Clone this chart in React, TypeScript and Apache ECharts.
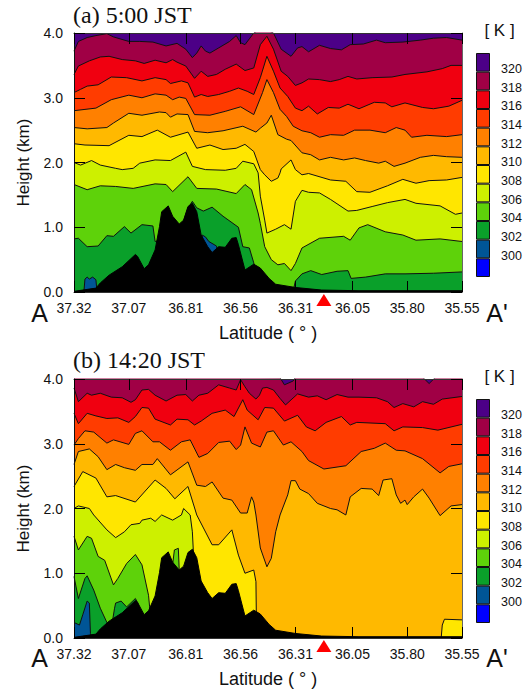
import React, { useEffect, useRef } from "react";
import * as echarts from "echarts";

type P = [number, number][];

const latTicks = [37.32, 37.07, 36.81, 36.56, 36.31, 36.05, 35.8, 35.55];
const stationLat = [36.18];
const levelLabels = ["", "300", "302", "304", "306", "308", "310", "312", "314", "316", "318", "320"];
const bandColors = ["#0000ff", "#005596", "#0aa02a", "#5ed20a", "#cdf000", "#ffe600", "#ffb900", "#ff8000", "#ff3c00", "#f00010", "#a00045", "#4c0087"];

const terrain: P = [[37.32,.01],[37.22,.06],[37.20,.14],[37.16,.26],[37.10,.39],[37.04,.58],[37.03,.55],[37.00,.36],[36.98,.42],[36.95,.65],[36.93,1.01],[36.92,1.24],[36.89,1.33],[36.87,1.17],[36.84,1.05],[36.82,1.11],[36.80,1.32],[36.78,1.37],[36.76,1.24],[36.74,.88],[36.71,.70],[36.69,.61],[36.66,.70],[36.63,.69],[36.60,.83],[36.58,.84],[36.57,.73],[36.54,.34],[36.50,.43],[36.47,.37],[36.43,.21],[36.40,.12],[36.31,.07],[36.19,.03],[36.02,.02],[35.55,.02]];

const a320: P = [[37.32,3.72],[37.30,3.87],[37.26,3.93],[37.22,3.96],[37.17,3.99],[37.14,3.94],[37.07,3.87],[37.02,3.87],[36.96,3.86],[36.90,3.80],[36.85,3.84],[36.81,3.75],[36.78,3.62],[36.76,3.69],[36.74,3.80],[36.72,3.72],[36.70,3.69],[36.66,3.77],[36.61,3.87],[36.58,3.96],[36.56,3.85],[36.54,3.82],[36.52,3.91],[36.50,4.00],[36.46,4.08],[36.41,4.00],[36.375,3.75],[36.33,3.64],[36.30,3.77],[36.28,3.79],[36.25,3.71],[36.20,3.81],[36.15,3.76],[36.10,3.74],[36.06,3.82],[36.00,3.83],[35.94,3.89],[35.90,3.85],[35.82,3.86],[35.74,3.89],[35.68,3.92],[35.62,3.93],[35.55,3.89]];
const a318: P = [[37.32,3.36],[37.30,3.49],[37.25,3.57],[37.20,3.63],[37.16,3.64],[37.10,3.59],[37.04,3.57],[37.00,3.53],[36.95,3.58],[36.90,3.54],[36.87,3.59],[36.85,3.55],[36.81,3.49],[36.77,3.30],[36.74,3.41],[36.71,3.33],[36.67,3.36],[36.63,3.44],[36.58,3.52],[36.54,3.42],[36.50,3.46],[36.47,3.82],[36.44,3.95],[36.41,3.75],[36.375,3.41],[36.345,3.33],[36.31,3.19],[36.28,3.23],[36.25,3.29],[36.20,3.28],[36.15,3.25],[36.11,3.28],[36.07,3.33],[36.03,3.29],[35.96,3.31],[35.87,3.32],[35.81,3.36],[35.71,3.40],[35.64,3.45],[35.60,3.50],[35.55,3.50]];
const a316: P = [[37.32,3.08],[37.29,3.13],[37.26,3.18],[37.21,3.20],[37.15,3.32],[37.08,3.31],[37.01,3.26],[36.95,3.31],[36.90,3.28],[36.88,3.22],[36.83,3.26],[36.80,3.23],[36.77,3.01],[36.74,3.05],[36.71,3.02],[36.66,3.05],[36.61,3.10],[36.57,3.15],[36.53,3.10],[36.50,3.05],[36.47,3.31],[36.44,3.64],[36.41,3.41],[36.38,3.15],[36.345,3.02],[36.31,2.84],[36.28,2.80],[36.25,2.87],[36.21,2.75],[36.16,2.85],[36.11,2.84],[36.07,2.90],[36.02,2.83],[35.95,2.93],[35.90,2.92],[35.87,2.86],[35.81,2.92],[35.73,2.85],[35.68,2.83],[35.61,2.87],[35.55,2.96]];
const a314: P = [[37.32,2.80],[37.27,2.82],[37.22,2.84],[37.15,2.97],[37.07,3.04],[37.01,3.00],[36.95,3.06],[36.90,3.04],[36.87,2.97],[36.84,3.01],[36.81,2.99],[36.77,2.74],[36.70,2.73],[36.63,2.79],[36.56,2.86],[36.50,2.74],[36.46,3.08],[36.44,3.28],[36.41,3.08],[36.38,2.82],[36.35,2.71],[36.32,2.56],[36.28,2.49],[36.24,2.46],[36.20,2.39],[36.15,2.43],[36.09,2.42],[36.04,2.50],[35.97,2.50],[35.90,2.46],[35.85,2.54],[35.81,2.50],[35.78,2.39],[35.71,2.42],[35.62,2.40],[35.55,2.43]];
const a312: P = [[37.32,2.54],[37.26,2.52],[37.17,2.54],[37.14,2.61],[37.07,2.76],[37.01,2.73],[36.93,2.78],[36.90,2.77],[36.88,2.70],[36.85,2.75],[36.80,2.74],[36.77,2.48],[36.71,2.46],[36.64,2.49],[36.55,2.56],[36.49,2.47],[36.47,2.53],[36.44,2.61],[36.42,2.73],[36.39,2.43],[36.35,2.36],[36.33,2.34],[36.28,2.15],[36.24,2.12],[36.20,2.04],[36.15,2.08],[36.09,2.04],[36.04,2.07],[35.99,2.03],[35.93,1.99],[35.90,2.02],[35.86,1.94],[35.81,1.99],[35.74,2.08],[35.68,2.11],[35.62,2.09],[35.55,2.08]];
const a310: P = [[37.32,2.29],[37.27,2.27],[37.16,2.26],[37.07,2.42],[37.01,2.40],[36.94,2.50],[36.88,2.39],[36.80,2.47],[36.76,2.22],[36.70,2.27],[36.64,2.20],[36.58,2.22],[36.54,2.28],[36.50,2.17],[36.47,1.89],[36.45,1.81],[36.42,1.71],[36.39,1.76],[36.38,1.84],[36.375,1.90],[36.33,2.04],[36.31,1.89],[36.28,1.81],[36.25,1.83],[36.15,1.73],[36.08,1.71],[36.03,1.55],[35.97,1.54],[35.89,1.64],[35.82,1.74],[35.76,1.68],[35.70,1.72],[35.62,1.73],[35.55,1.77]];
const a308: P = [[37.32,2.00],[37.29,1.96],[37.24,2.03],[37.20,1.96],[37.13,1.91],[37.10,1.89],[37.05,1.91],[37.02,1.99],[36.95,2.04],[36.88,2.03],[36.81,2.16],[36.78,1.94],[36.72,1.89],[36.63,1.88],[36.58,1.91],[36.55,2.02],[36.50,1.98],[36.48,1.84],[36.47,1.48],[36.45,1.11],[36.44,.91],[36.40,.97],[36.36,1.04],[36.33,.97],[36.31,1.40],[36.28,1.57],[36.25,1.54],[36.20,1.53],[36.15,1.43],[36.07,1.25],[36.03,1.26],[35.96,1.32],[35.89,1.38],[35.81,1.43],[35.76,1.37],[35.65,1.33],[35.58,1.20],[35.55,1.22]];
const a306: P = [[37.32,1.66],[37.26,1.58],[37.20,1.64],[37.13,1.63],[37.05,1.60],[36.95,1.67],[36.90,1.66],[36.87,1.55],[36.80,1.78],[36.76,1.60],[36.67,1.59],[36.58,1.52],[36.54,1.66],[36.51,1.58],[36.48,1.22],[36.47,1.06],[36.45,.70],[36.42,.50],[36.39,.42],[36.36,.44],[36.33,.33],[36.31,.44],[36.28,.68],[36.20,.83],[36.09,.86],[36.06,.80],[36.02,.99],[35.98,1.04],[35.90,.93],[35.82,.88],[35.76,.80],[35.65,.82],[35.55,.78]];
const a304: P = [[37.32,.82],[37.30,.83],[37.26,.70],[37.21,.71],[37.17,.87],[37.14,.86],[37.09,1.01],[37.06,.91],[37.01,1.04],[36.96,1.02],[36.95,.78],[36.92,.8],[36.84,.9],[36.80,1.3],[36.78,1.40],[36.76,1.30],[36.73,1.25],[36.69,1.31],[36.64,1.17],[36.57,1.00],[36.55,.70],[36.52,.68],[36.50,.45],[36.48,.2],[36.40,.05],[36.32,.02],[36.31,.17],[36.28,.28],[36.24,.33],[36.19,.27],[36.12,.32],[36.07,.33],[36.056,.21],[35.99,.23],[35.90,.28],[35.81,.28],[35.68,.29],[35.55,.31]];
const a302: P = [[37.32,0],[37.275,0],[37.27,.2],[37.26,.23],[37.25,.2],[37.235,.23],[37.22,.19],[37.215,0],[36.76,0],[36.74,.5],[36.735,.88],[36.72,.85],[36.705,.78],[36.67,.71],[36.66,.5],[36.64,0],[35.55,0]];

const b320: P = [[37.32,4.05],[36.38,4.02],[36.36,3.91],[36.32,3.97],[36.31,4.03],[35.73,4.03],[35.70,3.93],[35.67,4.03],[35.55,4.05]];
const b318: P = [[37.32,3.86],[37.30,3.65],[37.26,3.78],[37.24,3.75],[37.20,3.78],[37.15,3.72],[37.10,3.71],[37.06,3.64],[37.04,3.68],[37.01,3.83],[36.98,3.84],[36.95,3.75],[36.90,3.66],[36.85,3.75],[36.81,3.76],[36.78,3.66],[36.75,3.75],[36.71,3.78],[36.66,3.91],[36.61,3.86],[36.58,3.83],[36.56,3.99],[36.54,3.88],[36.52,3.78],[36.49,3.69],[36.474,3.75],[36.46,3.86],[36.44,3.87],[36.41,3.83],[36.38,3.70],[36.355,3.60],[36.30,3.77],[36.25,3.72],[36.21,3.74],[36.17,3.68],[36.12,3.76],[36.07,3.72],[36.02,3.72],[35.94,3.71],[35.89,3.65],[35.86,3.56],[35.82,3.62],[35.77,3.57],[35.73,3.65],[35.68,3.61],[35.64,3.69],[35.55,3.73]];
const b316: P = [[37.32,3.47],[37.30,3.31],[37.26,3.47],[37.22,3.43],[37.17,3.39],[37.12,3.40],[37.07,3.33],[37.04,3.42],[37.01,3.56],[36.98,3.55],[36.95,3.38],[36.88,3.29],[36.85,3.38],[36.80,3.37],[36.77,3.29],[36.74,3.35],[36.69,3.47],[36.63,3.52],[36.59,3.42],[36.55,3.68],[36.53,3.52],[36.48,3.37],[36.45,3.56],[36.41,3.55],[36.36,3.35],[36.30,3.44],[36.26,3.26],[36.22,3.20],[36.17,3.33],[36.10,3.42],[36.06,3.29],[36.03,3.33],[35.90,3.31],[35.86,3.20],[35.82,3.26],[35.73,3.25],[35.66,3.21],[35.55,3.30]];
const b314: P = [[37.32,2.98],[37.30,3.08],[37.27,3.20],[37.23,3.18],[37.17,3.01],[37.14,3.06],[37.07,2.99],[37.04,3.16],[37.01,3.20],[36.96,3.03],[36.93,3.03],[36.88,2.90],[36.83,3.03],[36.79,3.06],[36.75,2.79],[36.71,2.85],[36.66,3.02],[36.61,3.04],[36.58,2.91],[36.56,2.98],[36.54,3.26],[36.51,3.01],[36.47,2.95],[36.44,3.18],[36.41,3.20],[36.365,2.98],[36.33,3.03],[36.28,2.88],[36.25,2.74],[36.18,2.61],[36.08,2.66],[36.01,2.88],[35.95,2.93],[35.90,3.01],[35.85,2.90],[35.81,2.89],[35.73,2.77],[35.65,2.55],[35.61,2.65],[35.55,2.69]];
const b312: P = [[37.32,2.68],[37.30,2.88],[37.25,2.92],[37.21,2.80],[37.17,2.60],[37.13,2.68],[37.09,2.63],[37.04,2.59],[37.01,2.68],[36.96,2.68],[36.94,2.77],[36.88,2.52],[36.80,2.72],[36.76,2.36],[36.72,2.34],[36.69,2.41],[36.64,2.16],[36.60,2.13],[36.56,1.93],[36.53,1.93],[36.51,2.18],[36.50,2.10],[36.49,1.90],[36.47,1.39],[36.44,1.10],[36.42,1.23],[36.40,1.64],[36.38,1.90],[36.345,2.21],[36.33,2.43],[36.31,2.43],[36.29,2.30],[36.25,2.23],[36.21,2.08],[36.15,2.00],[36.12,1.98],[36.08,1.90],[36.06,2.18],[36.01,2.31],[35.96,2.30],[35.93,2.20],[35.91,2.44],[35.87,2.46],[35.85,2.21],[35.83,2.08],[35.81,2.13],[35.80,2.06],[35.77,2.18],[35.73,2.30],[35.70,2.16],[35.65,1.89],[35.60,2.04],[35.55,2.06]];
const b310: P = [[37.32,2.34],[37.28,2.57],[37.22,2.47],[37.17,2.18],[37.13,2.20],[37.04,2.10],[36.95,2.44],[36.90,2.31],[36.86,2.15],[36.80,2.34],[36.76,1.90],[36.69,1.44],[36.66,1.44],[36.60,1.67],[36.57,1.28],[36.54,1.00],[36.50,1.05],[36.49,.87],[36.488,.3],[36.45,.1],[36.40,.05],[36.31,.02],[36.0,0],[35.645,0],[35.64,.2],[35.63,.29],[35.55,.28]];
const b308: P = [[37.32,2.00],[37.30,2.04],[37.25,2.00],[37.23,1.90],[37.17,1.67],[37.13,1.55],[37.09,1.64],[37.06,1.75],[37.02,1.77],[37.01,1.82],[36.97,1.85],[36.95,1.80],[36.92,1.90],[36.87,1.82],[36.83,1.90],[36.82,2.00],[36.79,1.90],[36.78,1.64],[36.775,1.3],[36.77,1.0],[36.72,.3],[36.60,0],[35.55,0]];
const b306: P = [[37.32,1.57],[37.30,1.36],[37.26,1.57],[37.24,1.54],[37.21,1.26],[37.18,1.20],[37.14,.82],[37.12,.92],[37.08,1.15],[37.04,1.29],[37.01,1.13],[36.98,.66],[36.975,.48],[36.97,.3],[36.90,.8],[36.875,1.0],[36.862,1.36],[36.844,1.385],[36.84,1.05],[36.82,.8],[36.72,.3],[36.5,0],[35.55,0]];
const b304: P = [[37.32,.95],[37.30,.61],[37.27,.92],[37.26,.96],[37.23,.74],[37.20,.46],[37.17,.24],[37.16,.15],[37.145,.25],[37.135,.46],[37.13,.54],[37.105,.57],[37.08,.48],[37.04,.61],[37.03,.55],[37.0,.2],[36.9,0],[35.55,0]];
const b302: P = [[37.32,.24],[37.295,.20],[37.28,.36],[37.26,.57],[37.25,.54],[37.245,.07],[37.24,0],[35.55,0]];

const contoursA: P[] = [a320, a318, a316, a314, a312, a310, a308, a306, a304, a302];
const contoursB: P[] = [b320, b318, b316, b314, b312, b310, b308, b306, b304, b302];

const INK = "#111";
const SANS = "Liberation Sans";

function panelAxes(i: number) {
  const g = i;
  const x = (pos: string, labels: boolean) => ({
    type: "value", gridIndex: g, position: pos, inverse: true, min: 35.55, max: 37.32, z: 20,
    name: labels ? "Latitude ( ° )" : "", nameLocation: "middle", nameGap: 32, nameMoveOverlap: false,
    nameTextStyle: { fontFamily: SANS, fontSize: 18, color: INK },
    axisLine: { show: true, onZero: false, lineStyle: { color: "#333", width: 1 } },
    axisTick: { show: true, inside: true, length: 11, customValues: latTicks, lineStyle: { color: "#000", width: 1 } },
    axisLabel: { show: labels, customValues: latTicks, margin: 9, fontFamily: SANS, fontSize: 14, color: INK, formatter: (v: number) => v.toFixed(2) },
    splitLine: { show: false },
  });
  const y = (pos: string, labels: boolean) => ({
    type: "value", gridIndex: g, position: pos, min: 0, max: 4, interval: 1, z: 20,
    name: labels ? "Height (km)" : "", nameLocation: "middle", nameGap: 42, nameMoveOverlap: false,
    nameTextStyle: { fontFamily: SANS, fontSize: 17, color: INK },
    axisLine: { show: true, onZero: false, lineStyle: { color: pos === "left" ? "#111" : "#666", width: 1 } },
    axisTick: { show: true, inside: true, length: 11, lineStyle: { color: "#000", width: 1 } },
    axisLabel: { show: labels, margin: 11, fontFamily: SANS, fontSize: 14, color: INK, formatter: (v: number) => v.toFixed(1) },
    splitLine: { show: false },
  });
  return { xs: [x("bottom", true), x("top", false)], ys: [y("left", true), y("right", false)] };
}

function panelSeries(i: number, contours: P[], top: string) {
  const xi = i * 2;
  const yi = i * 2;
  const base = { type: "line", xAxisIndex: xi, yAxisIndex: yi, showSymbol: false, symbol: "none", silent: true };
  const out: any[] = [
    { ...base, data: [[37.32, 4], [35.55, 4]], lineStyle: { width: 0 }, areaStyle: { color: top, opacity: 1, origin: "start" }, z: 2 },
  ];
  contours.forEach((c, k) => {
    out.push({
      ...base, data: c, z: 3 + k,
      lineStyle: { color: "#111", width: 1 },
      areaStyle: { color: bandColors[10 - k], opacity: 1, origin: "start" },
    });
  });
  out.push({
    ...base, data: terrain, z: 15,
    lineStyle: { color: "#000", width: 1 },
    areaStyle: { color: "#000", opacity: 1, origin: "start" },
  });
  out.push({
    type: "scatter", xAxisIndex: xi, yAxisIndex: yi, clip: false, silent: true, z: 30,
    data: stationLat.map((l) => [l, 0]), symbol: "triangle", symbolSize: [15, 12], symbolOffset: [0, 8],
    itemStyle: { color: "#ff0000", opacity: 1 },
  });
  return out;
}

function colorbar(i: number, xi: number, yi: number) {
  return {
    x: { type: "value", gridIndex: 2 + i, min: 0, max: 1, show: false },
    y: {
      type: "category", gridIndex: 2 + i, position: "right", data: levelLabels.map((l) => (l === "" ? " " : l)),
      axisLine: { show: false }, axisTick: { show: false },
      axisLabel: { interval: 0, margin: 11, fontFamily: SANS, fontSize: 12.5, color: INK, verticalAlign: "top" },
    },
    s: {
      type: "bar", xAxisIndex: xi, yAxisIndex: yi, barWidth: "100%", silent: true,
      data: bandColors.map((c) => ({ value: 1, itemStyle: { color: c, borderColor: "#111", borderWidth: 1 } })),
    },
  };
}

function text(x: number, y: number, t: string, size: number, font: string, align = "center") {
  return { type: "text", x, y, z: 50, silent: true, style: { text: t, fill: INK, font: `${size}px "${font}"`, align, verticalAlign: "middle" } };
}

export default function App() {
  const ref = useRef<HTMLDivElement>(null);
  useEffect(() => {
    const chart = echarts.init(ref.current!, undefined, { renderer: "svg" });
    const pa = panelAxes(0);
    const pb = panelAxes(1);
    const ca = colorbar(0, 4, 4);
    const cb = colorbar(1, 5, 5);
    chart.setOption({
      animation: false,
      backgroundColor: "#fff",
      grid: [
        { left: 74, top: 33, width: 388, height: 259, outerBoundsMode: "none" },
        { left: 74, top: 379, width: 388, height: 259, outerBoundsMode: "none" },
        { left: 476, top: 53, width: 14, height: 224, outerBoundsMode: "none" },
        { left: 476, top: 399, width: 14, height: 224, outerBoundsMode: "none" },
      ],
      xAxis: [...pa.xs, ...pb.xs, ca.x, cb.x],
      yAxis: [...pa.ys, ...pb.ys, ca.y, cb.y],
      series: [
        ...panelSeries(0, contoursA, bandColors[11]),
        ...panelSeries(1, contoursB, bandColors[11]),
        ca.s,
        cb.s,
      ],
      graphic: [
        text(73, 15, "(a) 5:00 JST", 24, "Liberation Serif", "left"),
        text(73, 360, "(b) 14:20 JST", 24, "Liberation Serif", "left"),
        text(39.5, 313, "A", 25, SANS),
        text(497, 313, "A'", 25, SANS),
        text(39.5, 658, "A", 25, SANS),
        text(497, 658, "A'", 25, SANS),
        text(499.5, 30, "[ K ]", 17, SANS),
        text(499.5, 376, "[ K ]", 17, SANS),
      ],
    });
    return () => chart.dispose();
  }, []);
  return <div ref={ref} style={{ position: "absolute", left: 0, top: 0, width: 530, height: 691 }} />;
}
